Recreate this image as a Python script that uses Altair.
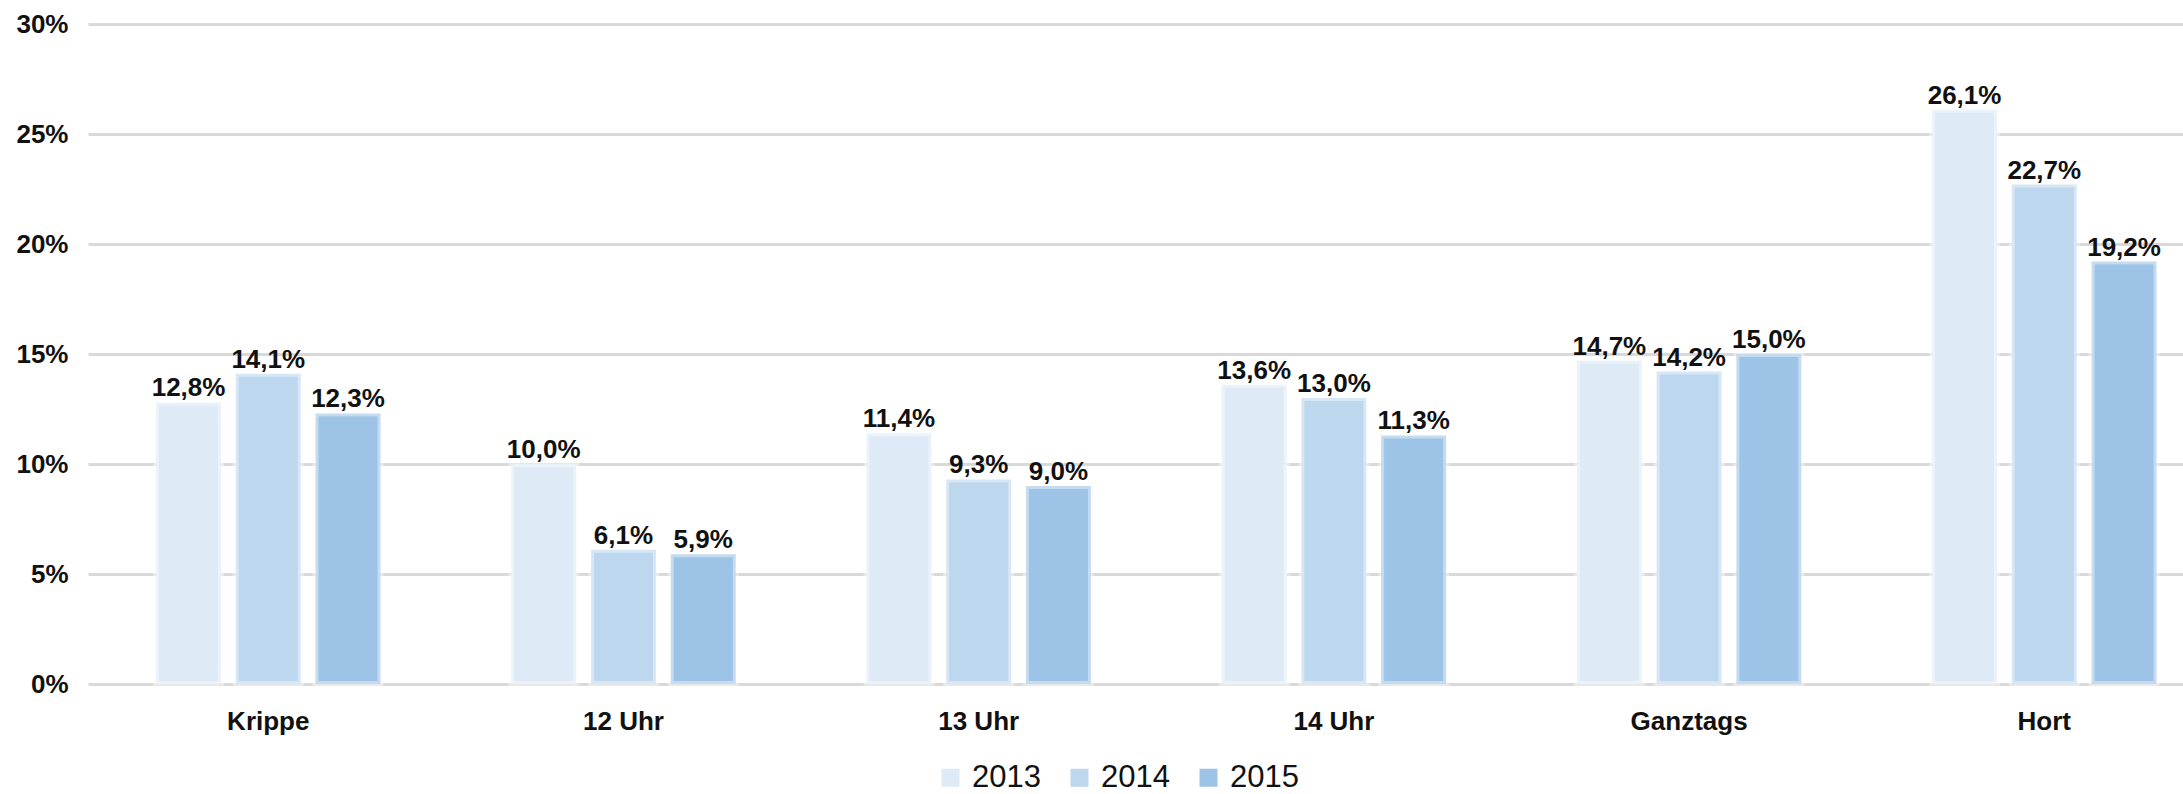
import altair as alt
import pandas as pd

categories = ["Krippe", "12 Uhr", "13 Uhr", "14 Uhr", "Ganztags", "Hort"]
years = ["2013", "2014", "2015"]
values_2013 = [12.8, 10.0, 11.4, 13.6, 14.7, 26.1]
values_2014 = [14.1, 6.1, 9.3, 13.0, 14.2, 22.7]
values_2015 = [12.3, 5.9, 9.0, 11.3, 15.0, 19.2]
colors = ["#DEEBF7", "#BDD7EE", "#9DC3E6"]
y_ticks = [0, 5, 10, 15, 20, 25, 30]

rows = []
for year, vals in zip(years, [values_2013, values_2014, values_2015]):
    for c, v in zip(categories, vals):
        rows.append({"Kategorie": c, "Jahr": year, "Wert": v})
df = pd.DataFrame(rows)

FONT = "Liberation Sans"
TXT = "#111111"

x_enc = alt.X(
    "Kategorie:N", sort=categories, title=None,
    scale=alt.Scale(paddingInner=0.368, paddingOuter=0.133, align=0.72),
    axis=alt.Axis(labelAngle=0, labelFont=FONT, labelFontSize=26, labelFontWeight="bold",
                  labelColor=TXT, labelPadding=24, ticks=False, tickSize=0,
                  domain=False, grid=False),
)
xoff_enc = alt.XOffset("Jahr:N", sort=years, scale=alt.Scale(paddingInner=0.185, paddingOuter=0))
y_enc = alt.Y(
    "Wert:Q", title=None,
    scale=alt.Scale(domain=[0, 30], nice=False, zero=True),
    axis=alt.Axis(values=y_ticks, labelExpr="datum.value + '%'", grid=True,
                  gridColor="#D9D9D9", gridWidth=3, domain=False, ticks=False, tickSize=0,
                  labelFont=FONT, labelFontSize=26, labelFontWeight="bold", labelColor=TXT,
                  labelPadding=20),
)

bars = alt.Chart(df).mark_bar(stroke="white", strokeOpacity=0.4, strokeWidth=6).encode(
    x=x_enc,
    xOffset=xoff_enc,
    y=y_enc,
    color=alt.Color(
        "Jahr:N",
        scale=alt.Scale(domain=years, range=colors),
        legend=alt.Legend(title=None, orient="none", legendX=847, legendY=738,
                          direction="horizontal", symbolType="square", symbolSize=324,
                          symbolStrokeWidth=0, labelFont=FONT, labelFontSize=31,
                          labelColor=TXT, columnPadding=23, labelOffset=6, padding=0),
    ),
)

labels = alt.Chart(df).transform_calculate(
    label="replace(format(datum.Wert, '.1f'), '.', ',') + '%'"
).mark_text(dy=-6, baseline="alphabetic", font=FONT, fontSize=26, fontWeight="bold",
            color=TXT).encode(
    x=alt.X("Kategorie:N", sort=categories),
    xOffset=alt.XOffset("Jahr:N", sort=years),
    y=alt.Y("Wert:Q"),
    text="label:N",
)

chart = alt.layer(bars, labels).properties(
    width=2095, height=660,
    autosize=alt.AutoSizeParams(type="none"),
    padding={"left": 88, "top": 24, "right": 0, "bottom": 110},
).configure_view(stroke=None)

chart.save("out.html", embed_options={"renderer": "svg", "actions": False})
